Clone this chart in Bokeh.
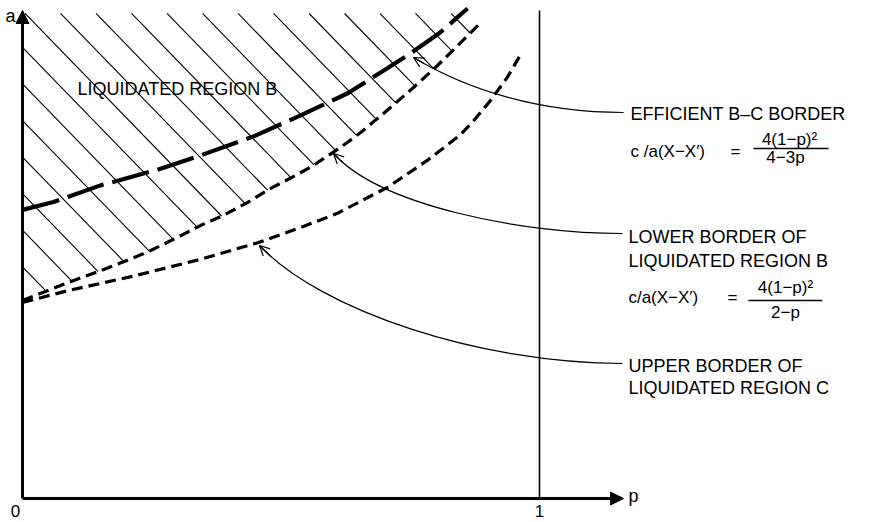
import numpy as np
from bokeh.plotting import figure
from bokeh.models import Range1d, Label, Arrow, NormalHead, OpenHead
from bokeh.embed import file_html
from bokeh.resources import INLINE

# ---------------- data ----------------
# efficient B-C border (thick long dashes)
eff_p = [0.000, 0.060, 0.151, 0.261, 0.344, 0.447, 0.538, 0.629, 0.698, 0.750, 0.808, 0.841, 0.861]
eff_a = [0.589, 0.605, 0.639, 0.671, 0.700, 0.739, 0.782, 0.827, 0.873, 0.908, 0.951, 0.982, 1.000]

# lower border of liquidated region B (medium dashes)
lowb_p = [0.000, 0.048, 0.099, 0.151, 0.203, 0.248, 0.300, 0.344, 0.389, 0.435, 0.480, 0.528,
          0.563, 0.600, 0.629, 0.654, 0.692, 0.725, 0.764, 0.799, 0.832, 0.867, 0.886]
lowb_a = [0.404, 0.424, 0.445, 0.465, 0.486, 0.506, 0.533, 0.557, 0.578, 0.604, 0.633, 0.659,
          0.680, 0.706, 0.727, 0.747, 0.780, 0.810, 0.846, 0.880, 0.914, 0.951, 0.971]

# upper border of liquidated region C (medium dashes)
upc_p = [0.000, 0.087, 0.215, 0.344, 0.455, 0.538, 0.609, 0.706, 0.783, 0.847, 0.872, 0.905,
         0.938, 0.963]
upc_a = [0.400, 0.424, 0.454, 0.488, 0.522, 0.553, 0.582, 0.635, 0.690, 0.742, 0.770, 0.812,
         0.860, 0.905]

hatch_top = 0.990          # upper edge of the hatched region B
p_one = 1.0                # vertical reference line p = 1
x_ticks = [0, 1]
x_tick_labels = ["0", "1"]
x_axis_end = 1.1625
y_axis_end = 0.996

FONT = "Liberation Sans"

# ---------------- figure (frame = whole canvas) ----------------
W, H = 885, 522
X0, X1 = -0.042553, 1.669246
Y0, Y1 = -0.048980, 1.016327
p = figure(width=W, height=H, x_range=Range1d(X0, X1), y_range=Range1d(Y0, Y1),
           x_axis_type=None, y_axis_type=None,
           output_backend="svg", toolbar_location=None,
           min_border=0, min_border_left=0, min_border_right=0,
           min_border_top=0, min_border_bottom=0)
p.grid.visible = False
p.outline_line_color = None
p.background_fill_color = "white"
p.border_fill_color = "white"

# ---------------- hatch of liquidated region B ----------------
sx = W / (X1 - X0)          # screen px per unit p
sy = H / (Y1 - Y0)          # screen px per unit a
HATCH_STEP = 35.5           # px between hatch lines along the top edge
HATCH_PHASE = 60.0          # px, where one hatch line meets the top edge
HATCH_SLOPE = 1.03          # screen dy/dx of the hatch lines
top_py = (Y1 - hatch_top) * sy
pg = np.linspace(0.0, lowb_p[-1], 4000)
bg = np.interp(pg, lowb_p, lowb_a)
hx, hy = [], []
for k in range(-25, 40):
    xk = HATCH_PHASE + k * HATCH_STEP
    al = Y1 - (top_py + HATCH_SLOPE * ((pg - X0) * sx - xk)) / sy
    inside = (al <= hatch_top) & (al >= bg)
    if not inside.any():
        continue
    idx = np.where(inside)[0]
    i0, i1 = idx[0], idx[-1]
    hx.append([pg[i0], pg[i1]])
    hy.append([al[i0], al[i1]])
p.multi_line(hx, hy, line_color="black", line_width=1.1)

# vertical line at p = 1
p.segment(x0=[p_one], y0=[0], x1=[p_one], y1=[y_axis_end], line_color="black", line_width=1.6)

# curves
p.line(upc_p, upc_a, line_color="black", line_width=3.2, line_dash="11 6")
p.line(lowb_p, lowb_a, line_color="black", line_width=3.2, line_dash="11 6")
p.line(eff_p, eff_a, line_color="black", line_width=4.2, line_dash="38 9")

# axes with arrows
p.add_layout(Arrow(end=NormalHead(size=13, fill_color="black", line_color="black"),
                   x_start=0, y_start=0, x_end=x_axis_end, y_end=0,
                   line_color="black", line_width=3))
p.add_layout(Arrow(end=NormalHead(size=13, fill_color="black", line_color="black"),
                   x_start=0, y_start=0, x_end=0, y_end=y_axis_end,
                   line_color="black", line_width=3))


def lab(x, y, text, size=18, align="left", baseline="middle", xoff=0):
    p.add_layout(Label(x=x, y=y, text=text, text_font=FONT, text_font_size=f"{size}px",
                       text_align=align, text_baseline=baseline, text_color="black",
                       x_offset=xoff))


# tick labels and axis names
for xv, t in zip(x_ticks, x_tick_labels):
    lab(xv, -0.0265, t, size=17, align="center", xoff=(-7 if xv == 0 else 0))
lab(-0.0232, 0.9837, "a", size=18, align="center")
lab(x_axis_end, 0.0041, "p", size=18, align="left", xoff=5)

# in-plot label
lab(0.1064, 0.8367, "LIQUIDATED REGION B", size=18)

# right-hand annotations
lab(1.176, 0.784, "EFFICIENT B–C BORDER", size=18)
lab(1.176, 0.708, "c /a(X−X′)", size=17)
lab(1.379, 0.708, "=", size=17, align="center")
lab(1.4836, 0.7327, "4(1−p)²", size=17, align="center")
lab(1.4758, 0.6959, "4−3p", size=17, align="center")

lab(1.172, 0.5327, "LOWER BORDER OF", size=18)
lab(1.172, 0.4857, "LIQUIDATED REGION B", size=18)
lab(1.172, 0.4102, "c/a(X−X′)", size=17)
lab(1.373, 0.4102, "=", size=17, align="center")
lab(1.4758, 0.4306, "4(1−p)²", size=17, align="center")
lab(1.4758, 0.3796, "2−p", size=17, align="center")

lab(1.172, 0.2694, "UPPER BORDER OF", size=18)
lab(1.172, 0.2245, "LIQUIDATED REGION C", size=18)

# fraction bars
p.segment(x0=[1.4139, 1.404], y0=[0.7143, 0.4041], x1=[1.559, 1.547], y1=[0.7143, 0.4041],
          line_color="black", line_width=1.4)

# leader curves with open arrowheads: (tip, control1, control2, end)
leaders = [
    ((0.7563, 0.900), (0.8627, 0.8327), (1.0019, 0.7878), (1.1625, 0.7878)),
    ((0.6015, 0.7041), (0.6925, 0.598), (0.9632, 0.5408), (1.1605, 0.5408)),
    ((0.4584, 0.5163), (0.5764, 0.3837), (0.8859, 0.2755), (1.1605, 0.2755)),
]


def bez(t, P0, C0, C1, P1):
    u = 1 - t
    return tuple(u**3 * P0[i] + 3 * u * u * t * C0[i] + 3 * u * t * t * C1[i] + t**3 * P1[i]
                 for i in range(2))


for tip, c0, c1, end in leaders:
    p.bezier(x0=[tip[0]], y0=[tip[1]], x1=[end[0]], y1=[end[1]],
             cx0=[c0[0]], cy0=[c0[1]], cx1=[c1[0]], cy1=[c1[1]],
             line_color="black", line_width=1.2)
    s = bez(0.06, tip, c0, c1, end)
    p.add_layout(Arrow(end=OpenHead(size=10, line_width=1.2, line_color="black"),
                       x_start=s[0], y_start=s[1], x_end=tip[0], y_end=tip[1],
                       line_color="black", line_width=1.2))

open("out.html", "w").write(file_html(p, INLINE))
